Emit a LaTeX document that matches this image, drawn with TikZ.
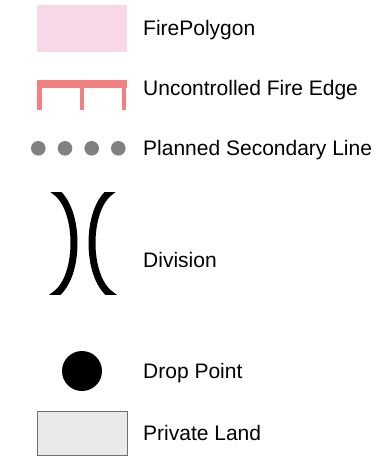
\documentclass[tikz,border=0pt]{standalone}
\usepackage{fontspec}
\setmainfont{Liberation Sans}
\usepackage{xcolor}
\usepackage{tikz}
\definecolor{firepink}{HTML}{F8D7E7}
\definecolor{fireedge}{HTML}{F28080}
\definecolor{linegray}{HTML}{808080}
\definecolor{landgray}{HTML}{EAEAEA}
\definecolor{landborder}{HTML}{6E6E6E}

\begin{document}
\begin{tikzpicture}[x=1pt,y=-1pt,
  legendtext/.style={anchor=base west,inner sep=0pt,font=\fontsize{21}{25}\selectfont},
  divarc/.style={line width=7pt}]
  \useasboundingbox (0,0) rectangle (382,458);
  \fill[firepink] (37,5) rectangle (127,52);
  \node[legendtext] (firepoly) at (143,35.7) {FirePolygon};
  \fill[fireedge] (37,80) rectangle (127,88);
  \fill[fireedge] (37,88) rectangle (41.5,110);
  \fill[fireedge] (79.5,88) rectangle (84,110);
  \fill[fireedge] (121.5,88) rectangle (126,110);
  \node[legendtext] (edge) at (143,95.7) {Uncontrolled Fire Edge};
  \foreach \x in {38.3,65,91.7,118.3}
    \fill[linegray] (\x,148.3) circle (7.3pt);
  \node[legendtext] (secline) at (143,155.5) {Planned Secondary Line};
  \begin{scope}
    \clip (0,192) rectangle (382,294);
    \draw[divarc] (49.7,187.1) -- (56,192) .. controls (80,210) and (80,276) .. (56,294) -- (49.7,298.9);
    \draw[divarc] (116.3,187.1) -- (110,192) .. controls (86,210) and (86,276) .. (110,294) -- (116.3,298.9);
  \end{scope}
  \node[legendtext] (division) at (143,267) {Division};
  \fill (82,371) circle (20pt);
  \node[legendtext] (drop) at (143,378.3) {Drop Point};
  \filldraw[fill=landgray,draw=landborder,line width=1pt] (37,411) rectangle (127,455);
  \node[legendtext] (private) at (143,440.7) {Private Land};
\end{tikzpicture}
\end{document}
